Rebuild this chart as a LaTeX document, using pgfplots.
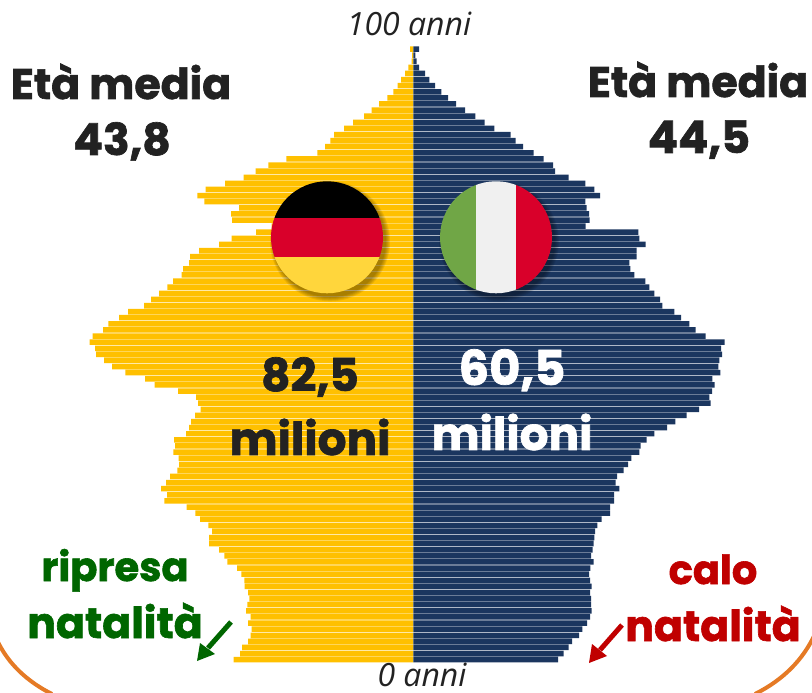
\documentclass[border=0pt]{standalone}
\usepackage{fontspec}
\usepackage{pgfplots}
\usepackage{pgfplotstable}
\pgfplotsset{compat=1.18}
\usetikzlibrary{calc}
\setmainfont{Open Sans}
\newfontfamily\blk[BoldFeatures={FakeBold=1.5}]{Poppins}
\definecolor{gold}{HTML}{FFC000}
\definecolor{navy}{HTML}{1B365F}
\definecolor{ink}{HTML}{222222}
\definecolor{verde}{HTML}{006600}
\definecolor{rosso}{HTML}{C00000}
\definecolor{arco}{HTML}{E57A25}
\definecolor{flagred}{HTML}{D9002A}
\definecolor{flagyel}{HTML}{FFD63C}
\definecolor{flaggrn}{HTML}{70A646}
\definecolor{flagwht}{HTML}{F0F0F0}
\newcommand{\bigtxt}[5]{\node[anchor=base,inner sep=0,text=#3] at (#1,#2) {\fontsize{#5}{#5}\selectfont\blk\bfseries #4};}
\pgfplotstableread{
age de it
100 3.3 5.7
99 1.3 2
98 1.7 3.3
97 5 5.7
96 8.3 11.7
95 12.3 16
94 15.7 21.7
93 20 28
92 26 34.7
91 34.3 42.7
90 41.7 51.7
89 49.3 62
88 60.3 71.3
87 69.3 81
86 79.3 97.3
85 83 102.3
84 88.3 109.7
83 96 120.3
82 127 130.3
81 145 139.7
80 157.7 141.7
79 169.7 155.3
78 188.3 172
77 207.7 181
76 216 186.7
75 209 172
74 174.3 173.3
73 182.3 175.7
72 181.3 176.3
71 141.7 172.3
70 157.3 225
69 181.7 226
68 194.3 232.3
67 214.3 223.3
66 223.3 223.3
65 224.3 216
64 230.3 217
63 231.7 221
62 240.3 232
61 246 236
60 254.3 241
59 262.3 246.7
58 269.3 249
57 285.3 261
56 294.3 267.7
55 305 276
54 310.3 282.3
53 320.7 292.3
52 323.7 311.3
51 318.3 307.7
50 317.3 308.7
49 309.3 306
48 301.3 305
47 288 307
46 268.3 299
45 258.7 301.3
44 235.3 298.7
43 217.3 296
42 215.3 297.3
41 212.7 285.7
40 218.3 273.3
39 222.3 262
38 224.3 253.7
37 227.3 241
36 239.3 233.3
35 238.3 227.3
34 240 226
33 234.7 218
32 234.3 214.7
31 236 210.3
30 243.3 203.7
29 247.3 202.3
28 252.3 206
27 246.3 200.7
26 249 200.7
25 226.7 196.7
24 218 196.7
23 213.3 188.3
22 205 184
21 201.3 181.7
20 204.3 181
19 204.3 180.3
18 194.3 179.3
17 189 177.7
16 186 180.3
15 176.3 177
14 172 175.7
13 169 176.7
12 168.7 178.3
11 165.3 176.7
10 164 177.7
9 166 177.7
8 167.3 178.3
7 162.7 176.7
6 165.3 173.7
5 161.7 169
4 162.7 165.7
3 165.3 158.7
2 171.3 155.3
1 173.3 150.3
0 179.7 144.7
}\pyr
\begin{document}
\begin{tikzpicture}
\path[use as bounding box] (0,0) rectangle (609pt,519pt);
\begin{axis}[
  at={(0,0)},anchor=south west,
  scale only axis,width=609pt,height=519pt,
  hide axis,clip=false,
  xmin=-413.3,xmax=398.7,
  ymin=-5.29,ymax=108.03,
  xbar,bar width=0.9,bar shift=0pt,
]
\addplot[fill=gold,draw=none] table[y=age,x expr=-\thisrow{de}] {\pyr};
\addplot[fill=navy,draw=none] table[y=age,x=it] {\pyr};
\end{axis}
\begin{scope}[shift={(0,519pt)},x=0.75pt,y=-0.75pt]
% arcs
\draw[arco,line width=3pt] (-3,640) .. controls (8,664) and (28,682) .. (52,694);
\draw[arco,line width=3pt] (815,634) .. controls (803,660) and (783,680) .. (755,694);
% flag shadows
\foreach \cx in {327,496}{
  \foreach \r in {60,59,58,57,56}{
    \fill[black,opacity=0.08] (\cx+3,237.3+4) circle [radius=\r*0.75pt];
  }
}
% German flag
\begin{scope}
\clip (327,237.3) circle [radius=42pt];
\fill[black] (265,175) rectangle (390,217.7);
\fill[flagred] (265,217.7) rectangle (390,257.3);
\fill[flagyel] (265,257.3) rectangle (390,300);
\end{scope}
% Italian flag
\begin{scope}
\clip (496,237.3) circle [radius=42pt];
\fill[flaggrn] (435,175) rectangle (476,300);
\fill[flagwht] (476,175) rectangle (515.7,300);
\fill[flagred] (515.7,175) rectangle (560,300);
\end{scope}
% italic labels
\node[anchor=base,inner sep=0,text=ink] at (409,36) {\fontsize{24}{26}\selectfont\itshape 100 anni};
\node[anchor=base,inner sep=0,text=ink] at (422,686) {\fontsize{24}{26}\selectfont\itshape 0 anni};
% titles
\bigtxt{121}{99}{ink}{Età media}{32}
\bigtxt{122}{155}{ink}{43,8}{33}
\bigtxt{698}{97}{ink}{Età media}{32}
\bigtxt{699}{153}{ink}{44,5}{33.5}
\bigtxt{310}{391}{ink}{82,5}{34}
\bigtxt{310}{455}{ink}{milioni}{34}
\bigtxt{512}{385}{white}{60,5}{36}
\bigtxt{512}{450}{white}{milioni}{34}
\bigtxt{115}{581}{verde}{ripresa}{30}
\bigtxt{115}{638}{verde}{natalità}{32}
\bigtxt{713}{584}{rosso}{calo}{30}
\bigtxt{713}{641}{rosso}{natalità}{32}
% arrows
\draw[verde,line width=3.75pt] (231,622) -- (208,648);
\fill[verde] (197,661) -- (200,643) -- (215,654) -- cycle;
\draw[rosso,line width=3.75pt] (622,625) -- (600,650);
\fill[rosso] (589,663) -- (592,644) -- (607,656) -- cycle;
\end{scope}
\end{tikzpicture}
\end{document}
